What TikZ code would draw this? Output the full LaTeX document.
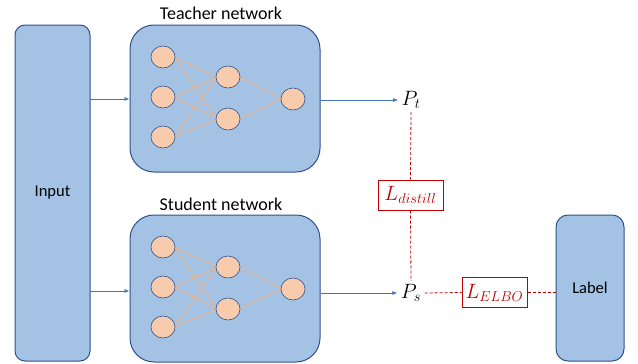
\documentclass[tikz,border=0pt]{standalone}
\usepackage{fontspec}
\setmainfont{Carlito}
\usetikzlibrary{arrows.meta,shapes.geometric}
\definecolor{boxfill}{RGB}{164,194,227}
\definecolor{boxline}{RGB}{47,82,143}
\definecolor{neufill}{RGB}{248,203,173}
\definecolor{wire}{RGB}{244,177,131}
\definecolor{arrowblue}{RGB}{68,114,196}
\definecolor{lossred}{RGB}{192,0,0}
\begin{document}
\begin{tikzpicture}[x=1pt,y=-1pt,
  bigbox/.style={draw=boxline,fill=boxfill,line width=1pt},
  neuron/.style={ellipse,draw=boxline,fill=neufill,line width=0.6pt,minimum width=24pt,minimum height=22pt,inner sep=0pt},
  wireline/.style={draw=wire,line width=0.8pt},
  flow/.style={draw=arrowblue,line width=0.8pt,-{Latex[length=5pt,width=4pt]}},
  lossline/.style={color=lossred,line width=0.8pt,dash pattern=on 3pt off 2pt},
  lossbox/.style={draw=lossred,fill=white,line width=1pt,text=lossred,inner sep=0pt,minimum width=65pt,minimum height=30pt,font=\fontsize{20}{22}\selectfont},
  title/.style={font=\fontsize{18}{20}\selectfont},
  boxtext/.style={font=\fontsize{16.5}{19}\selectfont}
]
\useasboundingbox (0,0) rectangle (638,364);
% Input
\node[bigbox,rounded corners=10pt,minimum width=75pt,minimum height=336pt,boxtext] (input) at (52.5,193) {Input};
% Teacher
\node[bigbox,rounded corners=24pt,minimum width=190pt,minimum height=147pt] (teacher) at (225,98.5) {};
\node[title] (ttitle) at (221,13) {Teacher network};
% Student
\node[bigbox,rounded corners=24pt,minimum width=190pt,minimum height=147pt] (student) at (225,288.5) {};
\node[title] (stitle) at (221,204) {Student network};
% Label
\node[bigbox,rounded corners=12pt,minimum width=68pt,minimum height=146pt,boxtext] (label) at (590,288) {Label};

% neurons and wires
\foreach \pre/\dy in {t/0,s/190}{
  \coordinate (\pre i1) at (163,57+\dy);
  \coordinate (\pre i2) at (163,97+\dy);
  \coordinate (\pre i3) at (163,137+\dy);
  \coordinate (\pre h1) at (228,77+\dy);
  \coordinate (\pre h2) at (228,119+\dy);
  \coordinate (\pre o) at (293,99+\dy);
  \foreach \a in {1,2,3}{
    \foreach \b in {1,2}{
      \draw[wireline] (\pre i\a) ++(11,0) -- ([xshift=-11pt]\pre h\b);
    }
  }
  \draw[wireline] ([xshift=11pt]\pre h1) -- ([xshift=-11pt]\pre o);
  \draw[wireline] ([xshift=11pt]\pre h2) -- ([xshift=-11pt]\pre o);
  \foreach \n in {i1,i2,i3,h1,h2,o}{
    \node[neuron] (\pre\n n) at (\pre\n) {};
  }
}

% outputs
\node[font=\fontsize{20}{22}\selectfont] (pt) at (411,100) {$P_t$};
\node[font=\fontsize{20}{22}\selectfont] (ps) at (411,293) {$P_s$};
\node[lossbox] (ld) at (410.5,195) {$L_{distill}$};
\node[lossbox] (le) at (494.5,292.5) {$L_{ELBO}$};

% flow arrows
\coordinate (inT) at (90,99);
\coordinate (inS) at (90,291);
\draw[flow] (inT) -- (inT -| teacher.west);
\draw[flow] (inS) -- (inS -| student.west);
\draw[flow] (teacher.east |- pt) -- (pt.west);
\draw[flow] (student.east |- ps) -- (ps.west);

% loss lines
\draw[lossline] (pt.south) -- (ld.north);
\draw[lossline] (ld.south) -- (ps.north);
\draw[lossline] (ps.east) -- (le.west);
\draw[lossline] (le.east) -- (label.west |- le.east);
\end{tikzpicture}
\end{document}
